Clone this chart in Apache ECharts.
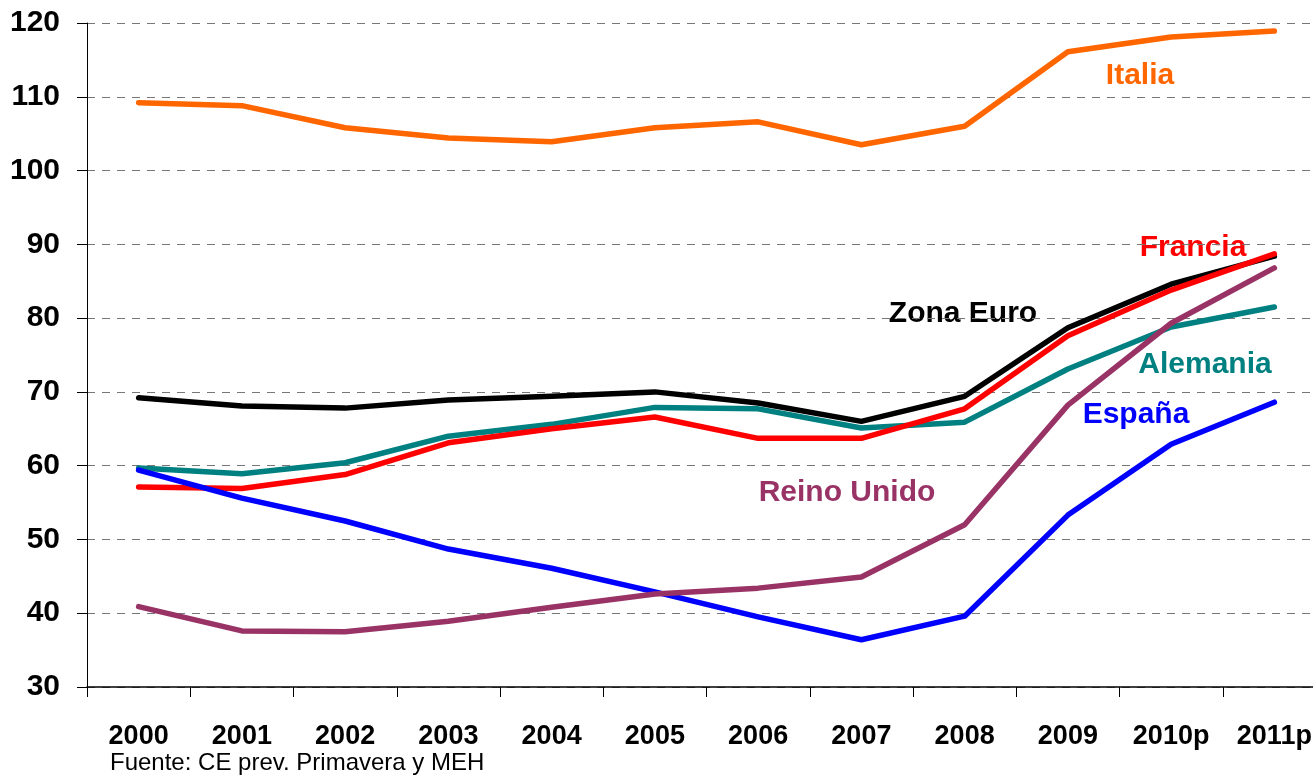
<!DOCTYPE html>
<html>
<head>
<meta charset="utf-8">
<script src="https://cdn.jsdelivr.net/npm/echarts@6/dist/echarts.min.js"></script>
<style>
  html, body { margin: 0; padding: 0; background: #fff; overflow: hidden; }
  /* el gráfico original se sale un poco por la derecha */
  #chart { width: 1330px; height: 777px; }
</style>
</head>
<body>
<div id="chart"></div>
<script>
// años
const years = ["2000", "2001", "2002", "2003", "2004", "2005", "2006", "2007", "2008", "2009", "2010p", "2011p"];

// deuda pública (% PIB)
const zonaEuro = [69.2, 68.1, 67.8, 68.9, 69.4, 70.0, 68.5, 66.0, 69.4, 78.7, 84.6, 88.4];
const alemania = [59.7, 58.9, 60.4, 64.0, 65.6, 67.9, 67.7, 65.1, 65.9, 73.1, 78.8, 81.5];
const francia = [57.1, 56.9, 58.8, 63.1, 65.0, 66.6, 63.7, 63.7, 67.7, 77.6, 83.8, 88.7];
const espana = [59.4, 55.6, 52.5, 48.7, 46.1, 42.9, 39.5, 36.4, 39.6, 53.3, 62.9, 68.6];
const reinoUnido = [40.9, 37.6, 37.5, 38.9, 40.8, 42.6, 43.4, 44.9, 52.0, 68.2, 79.3, 86.8];
const italia = [109.2, 108.8, 105.8, 104.4, 103.9, 105.8, 106.6, 103.5, 106.0, 116.1, 118.1, 118.9];

const yTicks = [30, 120, 10]; // min, max, paso

const font = "'Liberation Sans', Arial, sans-serif";

const chart = echarts.init(document.getElementById("chart"));

const mkLine = (name, data, color) => ({
  name,
  type: "line",
  data,
  symbol: "none",
  smooth: false,
  lineStyle: { color, width: 5.5, cap: "round", join: "round" }
});

const mkLabel = (text, x, y, color) => ({
  type: "text",
  x,
  y,
  style: {
    text,
    fill: color,
    font: "bold 30px " + font,
    textAlign: "center",
    textVerticalAlign: "middle"
  }
});

chart.setOption({
  animation: false,
  backgroundColor: "#fff",
  grid: { left: 87, top: 23, width: 1239, height: 664 },
  xAxis: {
    type: "category",
    data: years,
    boundaryGap: true,
    axisLine: { lineStyle: { color: "#000", width: 1.5 } },
    axisTick: { show: true, length: 10, lineStyle: { color: "#000" } },
    axisLabel: {
      color: "#000",
      fontFamily: font,
      fontWeight: "bold",
      fontSize: 27,
      margin: 36,
      interval: 0
    },
    splitLine: { show: false }
  },
  yAxis: {
    type: "value",
    min: yTicks[0],
    max: yTicks[1],
    interval: yTicks[2],
    axisLine: { show: true, lineStyle: { color: "#000", width: 1 } },
    axisTick: { show: true, length: 10, lineStyle: { color: "#000" } },
    axisLabel: {
      color: "#000",
      fontFamily: font,
      fontWeight: "bold",
      fontSize: 30,
      margin: 27
    },
    splitLine: { lineStyle: { color: "#777", type: [8, 7], width: 1.2 } }
  },
  series: [
    mkLine("Zona Euro", zonaEuro, "#000000"),
    mkLine("Alemania", alemania, "#008080"),
    mkLine("Francia", francia, "#FF0000"),
    mkLine("España", espana, "#0000FF"),
    mkLine("Reino Unido", reinoUnido, "#993366"),
    mkLine("Italia", italia, "#FF6600")
  ],
  graphic: [
    mkLabel("Italia", 1140, 76, "#FF6600"),
    mkLabel("Francia", 1193, 248, "#FF0000"),
    mkLabel("Zona Euro", 963, 314, "#000000"),
    mkLabel("Alemania", 1205, 365, "#008080"),
    mkLabel("España", 1136, 415, "#0000FF"),
    mkLabel("Reino Unido", 847, 493, "#993366"),
    {
      type: "text",
      x: 110,
      y: 763,
      style: {
        text: "Fuente: CE prev. Primavera y MEH",
        fill: "#000",
        font: "24px " + font,
        textAlign: "left",
        textVerticalAlign: "middle"
      }
    }
  ]
});

window.addEventListener("resize", () => {
  chart.resize();
});
</script>
</body>
</html>
